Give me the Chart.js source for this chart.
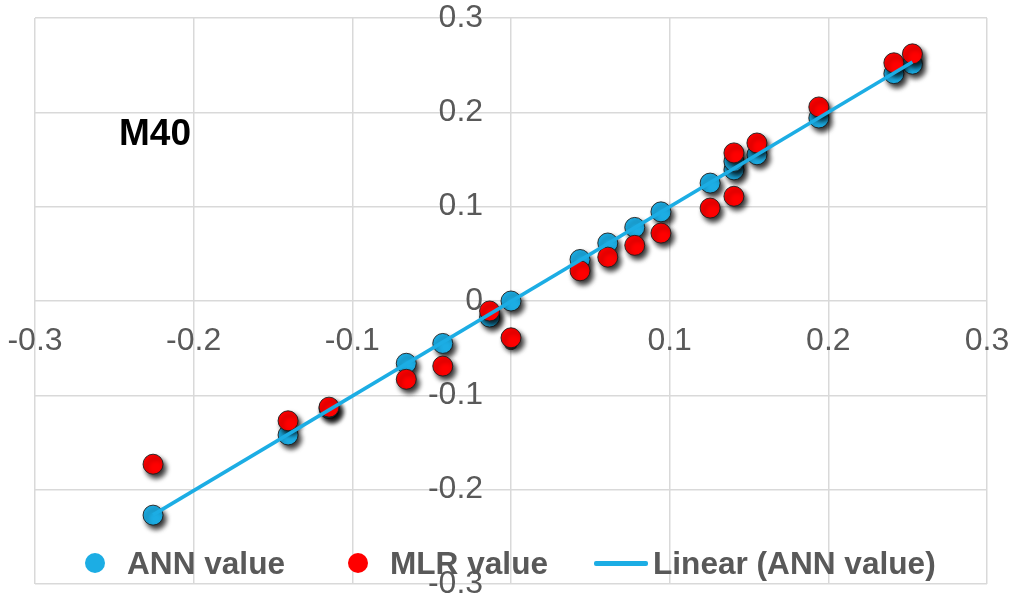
<!DOCTYPE html>
<html lang="en">
<head>
<meta charset="UTF-8">
<title>M40 ANN vs MLR</title>
<style>
  body {
    margin: 0;
    background: #ffffff;
    font-family: "Liberation Sans", Arial, sans-serif;
  }
  #wrap {
    position: relative;
    width: 1017px;
    height: 599px;
  }
  .tag {
    position: absolute;
    left: 119px;
    top: 112px;
    font-size: 37px;
    font-weight: bold;
    color: #000;
    line-height: 42px;
  }
  .legend {
    position: absolute;
    top: 545px;
    left: 0;
    height: 36px;
    font-size: 31.6px;
    font-weight: bold;
    color: #595959;
  }
  .legend span { position: absolute; white-space: nowrap; line-height: 36px; }
  .dot {
    width: 20px;
    height: 20px;
    border-radius: 50%;
    margin-top: 8px;
  }
  .bar {
    height: 5px;
    margin-top: 16px;
    border-radius: 2px;
  }
</style>
</head>
<body>
<div id="wrap">
  <canvas id="chart"></canvas>
  <div class="tag">M40</div>
  <div class="legend">
    <span class="dot" style="left:85px;background:#1CADE4;"></span>
    <span style="left:127px;">ANN value</span>
    <span class="dot" style="left:348px;background:#FF0000;"></span>
    <span style="left:390px;">MLR value</span>
    <span class="bar" style="left:594px;width:54px;background:#1CADE4;"></span>
    <span style="left:653px;">Linear (ANN value)</span>
  </div>
</div>

<script src="https://cdn.jsdelivr.net/npm/chart.js"></script>
<script>
  // values
  var sampleX = [-0.2256, -0.1405, -0.1147, -0.066, -0.043, -0.0135, 0, 0.0435, 0.061, 0.078, 0.0945, 0.1255, 0.1405, 0.1405, 0.155, 0.194, 0.2413, 0.253];
  var annY    = [-0.227, -0.142, -0.114, -0.066, -0.045, -0.017, 0, 0.044, 0.0615, 0.078, 0.0945, 0.125, 0.139, 0.148, 0.155, 0.194, 0.241, 0.251];
  var mlrY    = [-0.173, -0.127, -0.1125, -0.083, -0.069, -0.0106, -0.039, 0.032, 0.0465, 0.059, 0.072, 0.0985, 0.111, 0.157, 0.1675, 0.2057, 0.2525, 0.262];
  var axisTicks = [-0.3, -0.2, -0.1, 0, 0.1, 0.2, 0.3];

  var blue = '#1CADE4';
  var red = '#FF0000';
  var grey = '#595959';

  function pairs(xs, ys) {
    return xs.map(function (x, i) { return { x: x, y: ys[i] }; });
  }

  // least squares trendline on the ANN series (same as Excel's linear trendline)
  function trend(xs, ys) {
    var n = xs.length, sx = 0, sy = 0, sxy = 0, sxx = 0;
    for (var i = 0; i < n; i++) {
      sx += xs[i]; sy += ys[i]; sxy += xs[i] * ys[i]; sxx += xs[i] * xs[i];
    }
    var m = (n * sxy - sx * sy) / (n * sxx - sx * sx);
    var b = (sy - m * sx) / n;
    var lo = Math.min.apply(null, xs), hi = Math.max.apply(null, xs);
    return [{ x: lo, y: m * lo + b }, { x: hi, y: m * hi + b }];
  }

  var shadow = {
    id: 'shadow',
    beforeDatasetDraw: function (chart, args) {
      if (args.meta.type !== 'scatter') return;
      var ctx = chart.ctx;
      ctx.save();
      ctx.shadowColor = 'rgba(0,0,0,0.8)';
      ctx.shadowBlur = 5;
      ctx.shadowOffsetX = 3;
      ctx.shadowOffsetY = 4;
    },
    afterDatasetDraw: function (chart, args) {
      if (args.meta.type !== 'scatter') return;
      chart.ctx.restore();
    }
  };

  function fmt(v) {
    var r = Math.round(v * 10) / 10;
    return (r === 0 ? 0 : r).toString();
  }

  // labels may hang outside the plot, like in Excel; don't let them shrink it
  function noOverflow(s) {
    s.paddingLeft = 0; s.paddingRight = 0; s.paddingTop = 0; s.paddingBottom = 0;
  }

  var gridOpts = { color: '#D9D9D9', lineWidth: 1.5, drawTicks: false };

  new Chart(document.getElementById('chart'), {
    data: {
      datasets: [{
        type: 'line',
        label: 'Linear (ANN value)',
        data: trend(sampleX, annY),
        borderColor: blue,
        borderWidth: 3.5,
        pointRadius: 0,
        fill: false,
        order: 0
      }, {
        type: 'scatter',
        label: 'MLR value',
        data: pairs(sampleX, mlrY),
        backgroundColor: red,
        borderColor: 'rgba(30,30,30,0.9)',
        borderWidth: 1,
        pointRadius: 10,
        order: 1
      }, {
        type: 'scatter',
        label: 'ANN value',
        data: pairs(sampleX, annY),
        backgroundColor: blue,
        borderColor: 'rgba(30,30,30,0.9)',
        borderWidth: 1,
        pointRadius: 10,
        order: 2
      }]
    },
    options: {
      responsive: true,
      maintainAspectRatio: false,
      animation: false,
      layout: { padding: { left: 35, right: 30, top: 18, bottom: 15 } },
      plugins: {
        legend: { display: false },
        tooltip: { enabled: false }
      },
      scales: {
        x: {
          type: 'linear',
          position: { y: 0 },
          min: -0.3,
          max: 0.3,
          afterBuildTicks: function (s) { s.ticks = axisTicks.map(function (v) { return { value: v }; }); },
          afterFit: noOverflow,
          grid: gridOpts,
          border: { display: false },
          ticks: {
            autoSkip: false,
            maxRotation: 0,
            padding: 21,
            color: grey,
            font: { family: '"Liberation Sans", Arial, sans-serif', size: 32 },
            callback: fmt
          }
        },
        y: {
          type: 'linear',
          // only moves the labels; the vertical line at 0 comes from the x grid
          position: { x: -0.0176 },
          min: -0.3,
          max: 0.3,
          afterBuildTicks: function (s) { s.ticks = axisTicks.map(function (v) { return { value: v }; }); },
          afterFit: noOverflow,
          grid: gridOpts,
          border: { display: false },
          ticks: {
            autoSkip: false,
            padding: 0,
            color: grey,
            font: { family: '"Liberation Sans", Arial, sans-serif', size: 32 },
            callback: fmt
          }
        }
      }
    },
    plugins: [shadow]
  });
</script>
</body>
</html>
